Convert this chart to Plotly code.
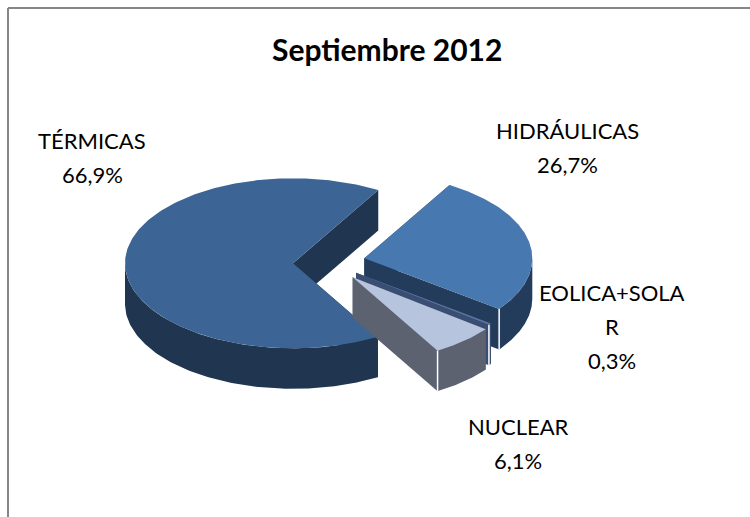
import math
import plotly.graph_objects as go

# Data, clockwise from the start angle
names = ["HIDRÁULICAS", "EOLICA+SOLAR", "NUCLEAR", "TÉRMICAS"]
label_lines = [["HIDRÁULICAS"], ["EOLICA+SOLA", "R"], ["NUCLEAR"], ["TÉRMICAS"]]
values = [26.7, 0.3, 6.1, 66.9]
title_text = "Septiembre 2012"

# Styles and pie geometry (pixels of the 750x517 canvas)
top_colors = ["#4878b0", "#5a74a0", "#b6c4de", "#3c6596"]
side_colors = ["#233c5c", "#3a4d72", "#5c6270", "#1f3550"]
apex_x = [364.3, 356.0, 352.7, 293.0]
apex_y = [258.3, 272.7, 277.3, 263.3]
label_x = [567, 612, 518, 92]
label_y = [130, 292, 426, 140]
LINE_STEP = 34
highlight = [True, True, True, False]
RX, RY, DEPTH = 168.0, 85.0, 40.5
START = 59.5
draw_order = [3, 0, 1, 2]


def pt(i, deg):
    a = math.radians(deg)
    return apex_x[i] + RX * math.cos(a), apex_y[i] - RY * math.sin(a)


def arc(i, a0, a1, n=120):
    return [pt(i, a0 + (a1 - a0) * k / n) for k in range(n + 1)]


def poly(points, color):
    xs = [p[0] for p in points] + [points[0][0]]
    ys = [p[1] for p in points] + [points[0][1]]
    return go.Scatter(x=xs, y=ys, mode="lines", fill="toself", fillcolor=color,
                      line=dict(width=0, color=color), hoverinfo="skip", showlegend=False)


def line(points, color, width):
    return go.Scatter(x=[p[0] for p in points], y=[p[1] for p in points], mode="lines",
                      line=dict(width=width, color=color), hoverinfo="skip", showlegend=False)


def down(p):
    return (p[0], p[1] + DEPTH)


total = sum(values)
bounds = []
angle = START
for v in values:
    end = angle - v / total * 360.0
    bounds.append((angle, end))
    angle = end

fig = go.Figure()
for i in draw_order:
    a0, a1 = bounds[i]
    apex = (apex_x[i], apex_y[i])
    # Radial walls
    for edge in (a0, a1):
        e = pt(i, edge)
        fig.add_trace(poly([apex, e, down(e), down(apex)], side_colors[i]))
    # Outer wall: only the part facing the viewer
    lo, hi = max(a1, -180.0), min(a0, 0.0)
    if hi > lo:
        rim = arc(i, lo, hi)
        fig.add_trace(poly(rim + [down(p) for p in reversed(rim)], side_colors[i]))
    # Top face
    fig.add_trace(poly([apex] + arc(i, a0, a1, 240), top_colors[i]))
    # Lit corner edge
    if highlight[i]:
        c = pt(i, a1)
        fig.add_trace(line([c, down(c)], "#ffffff", 1.5))

annotations = [dict(x=387, y=49, text=f"<b>{title_text}</b>", showarrow=False,
                    xanchor="center", yanchor="middle",
                    font=dict(family="Lato", size=30, color="#000000"))]
for i in range(len(values)):
    pct = f"{values[i]:.1f}%".replace(".", ",")
    for k, txt in enumerate(label_lines[i] + [pct]):
        annotations.append(dict(x=label_x[i], y=label_y[i] + k * LINE_STEP, text=txt,
                                showarrow=False, xanchor="center", yanchor="middle",
                                font=dict(family="Lato", size=22, color="#000000")))

frame = [
    dict(type="line", x0=8, x1=8, y0=8, y1=517, line=dict(color="#868686", width=2)),
    dict(type="line", x0=8, x1=750, y0=8, y1=8, line=dict(color="#868686", width=2)),
]

fig.update_layout(
    width=750, height=517, autosize=False,
    margin=dict(l=0, r=0, t=0, b=0),
    paper_bgcolor="#ffffff", plot_bgcolor="#ffffff",
    xaxis=dict(range=[0, 750], visible=False, fixedrange=True),
    yaxis=dict(range=[517, 0], visible=False, fixedrange=True),
    annotations=annotations, shapes=frame, showlegend=False,
)
fig.write_html("out.html", config=dict(displayModeBar=False),
               post_script="document.body.style.margin='0';document.body.style.overflow='hidden';")
